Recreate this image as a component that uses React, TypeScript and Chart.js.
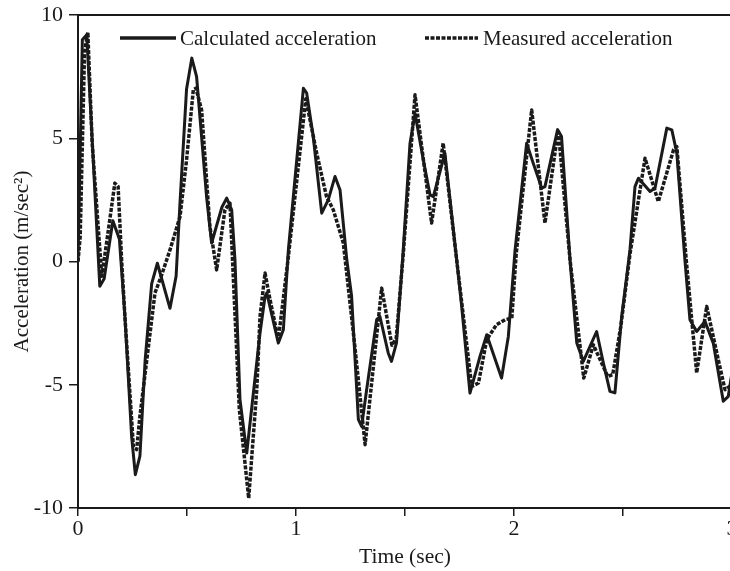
import React, { useEffect, useRef } from 'react';
import { Chart, registerables } from 'chart.js';

Chart.register(...registerables);

// Calculated acceleration (solid line)
const calcTime = [0, 0.02, 0.04, 0.1, 0.12, 0.16, 0.19, 0.215, 0.246, 0.263, 0.284, 0.308, 0.338, 0.364, 0.422, 0.45, 0.468, 0.498, 0.522, 0.544, 0.59, 0.613, 0.66, 0.682, 0.705, 0.72, 0.743, 0.774, 0.835, 0.858, 0.866, 0.919, 0.942, 0.965, 1.034, 1.049, 1.079, 1.118, 1.148, 1.179, 1.202, 1.233, 1.255, 1.286, 1.301, 1.324, 1.37, 1.385, 1.423, 1.438, 1.461, 1.492, 1.523, 1.546, 1.584, 1.615, 1.63, 1.683, 1.737, 1.76, 1.798, 1.844, 1.875, 1.943, 1.974, 2.005, 2.058, 2.088, 2.127, 2.142, 2.2, 2.218, 2.257, 2.288, 2.318, 2.379, 2.41, 2.44, 2.463, 2.494, 2.532, 2.555, 2.571, 2.624, 2.647, 2.701, 2.724, 2.747, 2.784, 2.807, 2.838, 2.876, 2.914, 2.96, 2.983, 3.0];
const calcAccel = [0, 9.0, 9.2, -1.0, -0.7, 1.65, 0.9, -2.2, -7.1, -8.65, -7.9, -4.0, -0.9, -0.07, -1.9, -0.6, 2.4, 7.0, 8.25, 7.5, 2.6, 0.75, 2.2, 2.57, 2.1, 0.07, -5.6, -7.77, -2.9, -1.42, -1.27, -3.31, -2.77, 0.47, 7.03, 6.83, 5.07, 1.96, 2.5, 3.45, 2.9, 0.07, -1.4, -6.4, -6.69, -5.2, -2.36, -2.23, -3.71, -4.05, -3.3, 0.47, 4.8, 6.0, 4.12, 2.7, 2.63, 4.39, 0.07, -1.82, -5.34, -3.85, -2.97, -4.73, -3.04, 0.47, 4.8, 3.99, 2.98, 3.04, 5.35, 5.07, 0.07, -3.31, -4.05, -2.84, -4.12, -5.27, -5.33, -2.23, 0.47, 3.04, 3.38, 2.84, 2.98, 5.41, 5.34, 4.39, 0.07, -2.36, -2.84, -2.43, -3.31, -5.67, -5.47, -4.5];

// Measured acceleration (dashed line)
const measTime = [0, 0.01, 0.03, 0.045, 0.065, 0.109, 0.131, 0.169, 0.184, 0.2, 0.215, 0.254, 0.269, 0.284, 0.353, 0.384, 0.422, 0.468, 0.498, 0.529, 0.541, 0.567, 0.605, 0.636, 0.674, 0.697, 0.74, 0.783, 0.82, 0.835, 0.858, 0.881, 0.919, 0.965, 1.045, 1.095, 1.14, 1.171, 1.217, 1.27, 1.317, 1.355, 1.393, 1.44, 1.46, 1.492, 1.546, 1.622, 1.675, 1.737, 1.806, 1.837, 1.875, 1.919, 1.959, 1.99, 2.01, 2.081, 2.142, 2.203, 2.257, 2.32, 2.364, 2.43, 2.453, 2.49, 2.532, 2.601, 2.662, 2.732, 2.747, 2.79, 2.838, 2.884, 2.937, 2.968, 3.0];
const measAccel = [0, 1.0, 8.5, 9.3, 4.8, -0.6, 0.75, 3.18, 3.04, 0.07, -2.2, -7.5, -7.63, -6.28, -1.28, -0.54, 0.47, 1.82, 4.12, 6.96, 7.03, 6.15, 1.42, -0.34, 2.1, 2.37, -6.0, -9.6, -5.2, -2.23, -0.47, -1.55, -3.17, 0.2, 6.6, 4.39, 2.63, 2.1, 0.75, -3.45, -7.43, -4.26, -1.08, -3.4, -3.1, 0.3, 6.76, 1.56, 4.8, 0.07, -5.07, -4.93, -3.17, -2.57, -2.36, -2.3, 0.3, 6.15, 1.56, 5.34, 0.07, -4.73, -3.38, -4.66, -4.59, -2.63, 0.3, 4.19, 2.43, 4.53, 4.66, 0.07, -4.52, -1.82, -3.98, -5.2, -5.0];

const seriesLabels = ['Calculated acceleration', 'Measured acceleration'];
const xTickValues = [0, 1, 2, 3];
const yTickValues = [-10, -5, 0, 5, 10];

const INK = '#1a1a1a';
const SERIF = "'Liberation Serif', 'Times New Roman', serif";

const insideLegend = {
  id: 'insideLegend',
  afterDraw(chart: any) {
    const { ctx, chartArea } = chart;
    ctx.save();
    // top frame line
    ctx.strokeStyle = INK;
    ctx.lineWidth = 2;
    ctx.beginPath();
    ctx.moveTo(chartArea.left, chartArea.top);
    ctx.lineTo(chartArea.right, chartArea.top);
    ctx.stroke();

    const y = chartArea.top + 23;
    const items = [
      { x0: chartArea.left + 42, x1: chartArea.left + 98, tx: chartArea.left + 102, dash: [] as number[], w: 3.5 },
      { x0: chartArea.left + 347, x1: chartArea.left + 400, tx: chartArea.left + 405, dash: [4, 1.5], w: 3.5 },
    ];
    ctx.font = `21px ${SERIF}`;
    ctx.textBaseline = 'middle';
    ctx.fillStyle = INK;
    items.forEach((it, i) => {
      ctx.strokeStyle = INK;
      ctx.lineWidth = it.w;
      ctx.setLineDash(it.dash);
      ctx.beginPath();
      ctx.moveTo(it.x0, y);
      ctx.lineTo(it.x1, y);
      ctx.stroke();
      ctx.setLineDash([]);
      ctx.fillText(chart.data.datasets[i].label, it.tx, y + 1);
    });
    ctx.restore();
  },
};

export default function App() {
  const ref = useRef<HTMLCanvasElement | null>(null);

  useEffect(() => {
    if (!ref.current) return;
    const chart = new Chart(ref.current, {
      type: 'line',
      data: {
        datasets: [
          {
            label: seriesLabels[0],
            data: calcTime.map((t, i) => ({ x: t, y: calcAccel[i] })),
            borderColor: INK,
            borderWidth: 3,
            borderJoinStyle: 'round',
            pointRadius: 0,
            tension: 0,
            fill: false,
          },
          {
            label: seriesLabels[1],
            data: measTime.map((t, i) => ({ x: t, y: measAccel[i] })),
            borderColor: INK,
            borderWidth: 3.5,
            borderDash: [4, 1.5],
            borderJoinStyle: 'round',
            pointRadius: 0,
            tension: 0,
            fill: false,
          },
        ],
      },
      options: {
        responsive: false,
        animation: false,
        layout: { padding: { left: 0, top: 15, right: 8, bottom: 0 } },
        plugins: {
          legend: { display: false },
          tooltip: { enabled: false },
        },
        scales: {
          x: {
            type: 'linear',
            min: 0,
            max: 3,
            afterFit: (s: any) => { s.height = 63; s.paddingLeft = 0; s.paddingRight = 0; },
            ticks: {
              stepSize: 0.5,
              autoSkip: false,
              maxRotation: 0,
              padding: 0,
              color: INK,
              font: { family: SERIF, size: 22 },
              callback: (v: any) => (xTickValues.includes(Number(v)) ? String(v) : ''),
            },
            grid: { drawOnChartArea: false, drawTicks: true, tickLength: 8, color: INK, lineWidth: 1.5 },
            border: { display: true, color: INK, width: 2 },
            title: {
              display: true,
              text: 'Time (sec)',
              color: INK,
              font: { family: SERIF, size: 21.5, lineHeight: 1 },
              padding: { top: 3, bottom: 3 },
            },
          },
          y: {
            type: 'linear',
            min: -10,
            max: 10,
            afterFit: (s: any) => { s.width = 78; s.paddingTop = 0; s.paddingBottom = 0; },
            ticks: {
              stepSize: 5,
              padding: 6,
              color: INK,
              font: { family: SERIF, size: 22 },
              callback: (v: any) => (yTickValues.includes(Number(v)) ? String(v) : ''),
            },
            grid: { drawOnChartArea: false, drawTicks: true, tickLength: 9, color: INK, lineWidth: 1.5 },
            border: { display: true, color: INK, width: 2 },
            title: {
              display: true,
              text: 'Acceleration (m/sec²)',
              color: INK,
              font: { family: SERIF, size: 21, lineHeight: 1.2 },
              padding: { top: 10, bottom: 10 },
            },
          },
        },
      },
      plugins: [insideLegend],
    });
    return () => chart.destroy();
  }, []);

  return (
    <div style={{ position: 'absolute', left: 0, top: 0, width: 730, height: 571, overflow: 'hidden', background: '#fff' }}>
      <canvas ref={ref} width={740} height={571} style={{ display: 'block' }} />
    </div>
  );
}
